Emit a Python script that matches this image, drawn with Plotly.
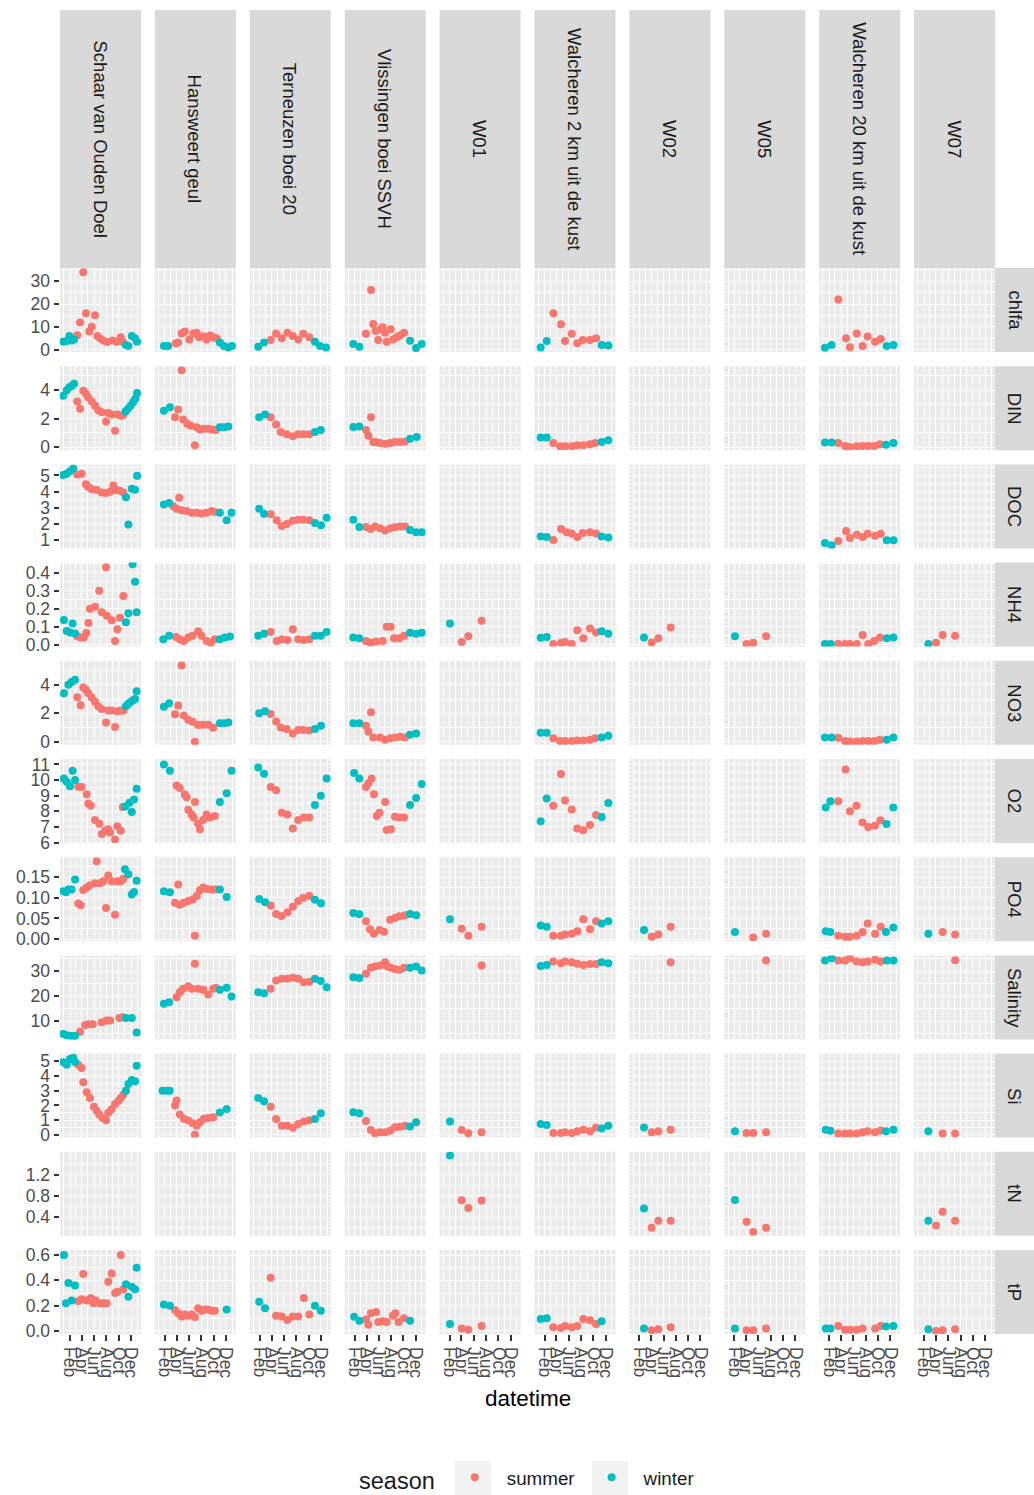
import numpy as np
import pandas as pd
import plotly.graph_objects as go

# ---------------- data ----------------
STATIONS = ["Schaar van Ouden Doel", "Hansweert geul", "Terneuzen boei 20", "Vlissingen boei SSVH",
            "W01", "Walcheren 2 km uit de kust", "W02", "W05", "Walcheren 20 km uit de kust", "W07"]
CODES = ["S", "H", "T", "V", "W01", "W2", "W02", "W05", "W20", "W07"]
VARIABLES = ["chlfa", "DIN", "DOC", "NH4", "NO3", "O2", "PO4", "Salinity", "Si", "tN", "tP"]
MONTH_TICKS = ["2009-02-01", "2009-04-01", "2009-06-01", "2009-08-01", "2009-10-01", "2009-12-01"]
MONTH_LABELS = ["Feb", "Apr", "Jun", "Aug", "Oct", "Dec"]
SEASONS = ["summer", "winter"]

# day-of-year (2009) of each sample and measured value, per station
chlfa_doy = {
    "S": [-1, 16, 29, 40, 52, 68, 82, 98, 111, 128, 140, 156, 168, 181, 197, 217, 244, 264, 284, 294, 310, 322, 339, 355, 365],
    "H": [27, 48, 87, 98, 115, 131, 153, 173, 190, 202, 222, 239, 256, 272, 289, 305, 325, 347, 365],
    "T": [24, 53, 86, 113, 141, 169, 196, 223, 248, 278, 306, 331, 361],
    "V": [25, 55, 88, 113, 124, 136, 149, 161, 171, 183, 191, 211, 223, 241, 256, 277, 307, 337, 365],
    "W2": [13, 43, 76, 114, 134, 167, 195, 222, 258, 288, 316, 349],
    "W20": [11, 44, 77, 116, 135, 169, 198, 223, 260, 288, 318, 351],
}
chlfa_val = {
    "S": [3.6, 3.9, 6.1, 4.1, 4.6, 6.4, 11.9, 33.8, 16.0, 8.0, 10.1, 15.1, 6.1, 5.1, 4.1, 3.5, 4.1, 3.6, 5.5, 3.6, 2.2, 1.7, 6.1, 5.1, 3.6],
    "H": [1.7, 1.7, 2.9, 3.2, 7.2, 8.0, 4.6, 7.2, 7.5, 5.5, 6.0, 4.6, 6.3, 5.5, 5.1, 3.2, 1.7, 1.1, 1.7],
    "T": [1.4, 3.2, 4.3, 7.2, 5.1, 7.5, 6.1, 4.6, 7.0, 5.5, 3.6, 1.7, 1.1],
    "V": [2.6, 1.4, 7.0, 26.1, 11.3, 8.3, 4.3, 9.0, 9.9, 7.5, 3.6, 9.0, 4.6, 5.5, 6.3, 7.5, 4.0, 0.8, 2.6],
    "W2": [1.1, 3.9, 16.0, 11.2, 3.9, 7.0, 2.9, 4.3, 4.3, 5.1, 2.2, 1.9],
    "W20": [1.0, 2.2, 22.0, 5.1, 1.2, 7.2, 1.7, 5.8, 3.6, 4.8, 1.7, 2.2],
}

DIN_doy = {
    "S": [-1, 16, 29, 40, 52, 68, 82, 98, 111, 122, 140, 156, 172, 189, 211, 222, 239, 256, 267, 284, 297, 308, 320, 333, 345, 356, 365],
    "H": [27, 57, 82, 98, 115, 123, 143, 160, 181, 190, 206, 226, 247, 269, 285, 305, 325, 347],
    "T": [29, 58, 86, 113, 136, 166, 196, 223, 248, 278, 306, 335],
    "V": [25, 55, 88, 100, 113, 124, 140, 158, 183, 208, 232, 257, 282, 307, 340],
    "W2": [13, 43, 76, 109, 134, 167, 195, 225, 258, 283, 316, 349],
    "W20": [11, 44, 77, 111, 135, 169, 198, 226, 256, 284, 314, 351],
}
DIN_val = {
    "S": [3.6, 4.0, 4.2, 4.3, 4.45, 3.2, 2.7, 3.95, 3.75, 3.5, 3.2, 2.9, 2.6, 2.45, 1.8, 2.4, 2.3, 1.15, 2.3, 2.2, 2.25, 2.5, 2.7, 2.9, 3.15, 3.4, 3.8],
    "H": [2.55, 2.8, 2.1, 2.65, 5.4, 1.95, 1.65, 1.5, 0.14, 1.4, 1.25, 1.3, 1.3, 1.25, 1.2, 1.4, 1.4, 1.45],
    "T": [2.1, 2.3, 2.1, 1.6, 1.07, 0.9, 0.77, 0.9, 0.9, 0.9, 1.07, 1.2],
    "V": [1.42, 1.45, 1.2, 0.8, 2.1, 0.37, 0.35, 0.3, 0.25, 0.3, 0.37, 0.37, 0.4, 0.6, 0.72],
    "W2": [0.68, 0.68, 0.3, 0.07, 0.07, 0.07, 0.14, 0.14, 0.2, 0.3, 0.37, 0.49],
    "W20": [0.33, 0.33, 0.3, 0.09, 0.02, 0.07, 0.09, 0.09, 0.09, 0.2, 0.18, 0.3],
}

DOC_doy = {
    "S": [-1, 16, 32, 48, 68, 90, 111, 122, 140, 165, 190, 211, 231, 247, 261, 280, 297, 310, 322, 339, 355, 365],
    "H": [27, 53, 73, 90, 103, 115, 140, 165, 190, 214, 239, 264, 280, 305, 339, 363],
    "T": [29, 53, 86, 116, 141, 166, 196, 223, 248, 278, 306, 336, 364],
    "V": [25, 55, 88, 112, 133, 158, 183, 208, 232, 257, 282, 307, 337, 365],
    "W2": [13, 43, 76, 114, 142, 167, 195, 222, 258, 288, 316, 349],
    "W20": [11, 44, 77, 116, 135, 169, 198, 223, 260, 288, 318, 351],
}
DOC_val = {
    "S": [5.02, 5.1, 5.26, 5.42, 5.06, 5.1, 4.45, 4.3, 4.15, 4.1, 3.95, 3.92, 4.0, 4.38, 4.1, 4.06, 3.95, 3.66, 1.98, 4.18, 4.12, 4.98],
    "H": [3.2, 3.3, 3.1, 2.95, 3.63, 2.85, 2.8, 2.7, 2.7, 2.65, 2.7, 2.8, 2.75, 2.7, 2.24, 2.7],
    "T": [2.95, 2.64, 2.6, 2.23, 1.88, 2.0, 2.2, 2.27, 2.27, 2.23, 2.06, 1.92, 2.39],
    "V": [2.27, 1.82, 1.82, 1.7, 1.85, 1.75, 1.6, 1.75, 1.8, 1.85, 1.85, 1.63, 1.5, 1.5],
    "W2": [1.24, 1.2, 1.02, 1.7, 1.5, 1.42, 1.2, 1.45, 1.5, 1.42, 1.24, 1.17],
    "W20": [0.84, 0.7, 0.96, 1.58, 1.14, 1.34, 1.2, 1.4, 1.28, 1.4, 1.0, 1.0],
}

NH4_doy = {
    "S": [2, 16, 32, 45, 57, 68, 85, 101, 113, 124, 131, 156, 177, 190, 211, 215, 239, 256, 267, 280, 297, 310, 322, 343, 355, 363],
    "H": [24, 53, 87, 106, 126, 148, 169, 197, 214, 239, 259, 280, 305, 330, 355],
    "T": [24, 53, 86, 116, 141, 169, 196, 223, 251, 278, 306, 335, 364],
    "V": [25, 55, 88, 111, 138, 171, 191, 211, 227, 254, 277, 307, 337, 365],
    "W01": [34, 92, 125, 191],
    "W2": [13, 43, 76, 114, 134, 167, 195, 225, 258, 288, 316, 349],
    "W02": [55, 93, 126, 187],
    "W05": [35, 93, 126, 190],
    "W20": [11, 39, 77, 111, 135, 169, 198, 226, 256, 284, 318, 351],
    "W07": [53, 91, 124, 186],
}
NH4_val = {
    "S": [0.137, 0.076, 0.068, 0.118, 0.062, 0.047, 0.04, 0.04, 0.065, 0.12, 0.2, 0.21, 0.3, 0.18, 0.43, 0.16, 0.135, 0.02, 0.085, 0.15, 0.27, 0.125, 0.175, 0.447, 0.35, 0.18],
    "H": [0.03, 0.05, 0.043, 0.03, 0.02, 0.04, 0.05, 0.075, 0.05, 0.02, 0.01, 0.03, 0.03, 0.04, 0.045],
    "T": [0.05, 0.06, 0.07, 0.02, 0.03, 0.025, 0.085, 0.03, 0.025, 0.03, 0.05, 0.05, 0.07],
    "V": [0.04, 0.035, 0.02, 0.01, 0.018, 0.02, 0.1, 0.1, 0.035, 0.035, 0.05, 0.066, 0.06, 0.066],
    "W01": [0.118, 0.015, 0.047, 0.133],
    "W2": [0.038, 0.043, 0.003, 0.01, 0.015, 0.003, 0.08, 0.035, 0.089, 0.068, 0.075, 0.06],
    "W02": [0.04, 0.012, 0.035, 0.095],
    "W05": [0.047, 0.003, 0.01, 0.047],
    "W20": [0.003, 0.003, 0.003, 0.003, 0.003, 0.003, 0.053, 0.003, 0.02, 0.04, 0.035, 0.04],
    "W07": [0.003, 0.01, 0.053, 0.05],
}

NO3_doy = {
    "S": [2, 24, 40, 57, 68, 85, 98, 111, 122, 140, 156, 172, 189, 211, 222, 239, 256, 267, 284, 297, 310, 320, 330, 343, 355, 363],
    "H": [27, 53, 82, 98, 115, 126, 148, 170, 181, 197, 222, 247, 272, 305, 325, 347],
    "T": [29, 58, 86, 113, 136, 166, 196, 223, 248, 278, 306, 336],
    "V": [25, 55, 88, 100, 113, 124, 158, 183, 208, 232, 257, 282, 307, 337],
    "W2": [13, 43, 76, 109, 134, 167, 195, 225, 258, 283, 316, 349],
    "W20": [11, 44, 77, 111, 135, 169, 198, 226, 256, 284, 318, 351],
}
NO3_val = {
    "S": [3.4, 4.0, 4.2, 4.35, 3.13, 2.57, 3.8, 3.65, 3.42, 3.1, 2.8, 2.5, 2.3, 1.35, 2.2, 2.2, 1.04, 2.15, 2.2, 2.2, 2.5, 2.65, 2.75, 2.9, 3.0, 3.55],
    "H": [2.45, 2.7, 1.93, 2.55, 5.35, 1.85, 1.55, 1.4, 0.0, 1.18, 1.2, 1.2, 0.98, 1.3, 1.3, 1.35],
    "T": [2.0, 2.14, 1.95, 1.43, 1.0, 0.9, 0.58, 0.83, 0.83, 0.8, 0.9, 1.13],
    "V": [1.3, 1.3, 1.13, 0.73, 2.07, 0.3, 0.3, 0.15, 0.25, 0.3, 0.35, 0.3, 0.5, 0.58],
    "W2": [0.63, 0.63, 0.25, 0.05, 0.05, 0.05, 0.1, 0.1, 0.15, 0.25, 0.3, 0.42],
    "W20": [0.3, 0.3, 0.28, 0.05, 0.02, 0.03, 0.05, 0.05, 0.05, 0.15, 0.15, 0.3],
}

O2_doy = {
    "S": [2, 16, 32, 45, 57, 73, 90, 115, 123, 135, 156, 178, 190, 206, 222, 231, 256, 267, 284, 294, 307, 327, 339, 350, 363],
    "H": [27, 57, 90, 106, 131, 140, 148, 165, 175, 181, 197, 206, 222, 239, 256, 280, 305, 339, 363],
    "T": [24, 53, 86, 113, 141, 169, 196, 223, 251, 278, 306, 335, 364],
    "V": [29, 55, 88, 100, 116, 128, 141, 155, 183, 191, 212, 232, 254, 277, 307, 337, 365],
    "W2": [13, 43, 76, 114, 134, 167, 195, 224, 258, 288, 316, 349],
    "W20": [15, 38, 77, 113, 135, 168, 197, 226, 259, 287, 317, 350],
}
O2_val = {
    "S": [10.1, 9.9, 9.6, 10.6, 10.0, 9.57, 9.55, 9.1, 8.5, 8.35, 7.45, 7.2, 6.55, 6.75, 6.85, 6.65, 6.2, 7.05, 6.75, 8.28, 8.3, 8.55, 7.95, 8.75, 9.45],
    "H": [11.0, 10.6, 9.65, 9.5, 9.08, 8.9, 8.1, 7.8, 7.6, 8.6, 7.2, 6.85, 7.45, 7.8, 7.6, 7.7, 8.6, 9.15, 10.6],
    "T": [10.8, 10.4, 9.55, 9.35, 7.9, 7.8, 6.9, 7.45, 7.6, 7.6, 8.4, 9.0, 10.1],
    "V": [10.45, 10.1, 9.55, 9.8, 10.1, 9.1, 7.7, 7.9, 8.6, 6.8, 6.85, 7.65, 7.6, 7.6, 8.4, 8.85, 9.75],
    "W2": [7.37, 8.82, 8.36, 10.39, 8.7, 8.12, 6.9, 6.79, 7.13, 7.77, 7.63, 8.53],
    "W20": [8.24, 8.65, 8.65, 10.68, 8.0, 8.36, 7.28, 6.99, 7.08, 7.43, 7.19, 8.24],
}

PO4_doy = {
    "S": [-1, 12, 24, 40, 57, 73, 85, 98, 115, 131, 156, 165, 181, 197, 211, 222, 239, 256, 267, 284, 297, 305, 322, 339, 350, 363],
    "H": [27, 57, 82, 98, 106, 126, 148, 170, 181, 190, 206, 222, 242, 264, 280, 305, 339],
    "T": [29, 58, 86, 113, 141, 169, 196, 223, 248, 278, 306, 336],
    "V": [25, 55, 88, 108, 128, 155, 178, 208, 232, 254, 282, 307, 337],
    "W01": [34, 92, 125, 191],
    "W2": [13, 43, 76, 114, 134, 167, 195, 225, 258, 288, 316, 349],
    "W02": [55, 93, 126, 187],
    "W05": [35, 126, 190],
    "W20": [15, 38, 77, 111, 135, 169, 198, 223, 260, 288, 314, 351],
    "W07": [53, 124, 186],
}
PO4_val = {
    "S": [0.116, 0.113, 0.12, 0.12, 0.144, 0.086, 0.082, 0.119, 0.125, 0.13, 0.135, 0.188, 0.135, 0.14, 0.075, 0.154, 0.14, 0.059, 0.14, 0.14, 0.146, 0.169, 0.157, 0.108, 0.114, 0.141],
    "H": [0.116, 0.113, 0.088, 0.132, 0.083, 0.088, 0.092, 0.096, 0.008, 0.104, 0.118, 0.125, 0.121, 0.12, 0.12, 0.12, 0.102],
    "T": [0.097, 0.089, 0.081, 0.061, 0.056, 0.065, 0.078, 0.092, 0.1, 0.104, 0.095, 0.087],
    "V": [0.063, 0.06, 0.043, 0.024, 0.013, 0.022, 0.018, 0.047, 0.051, 0.055, 0.058, 0.061, 0.058],
    "W01": [0.048, 0.025, 0.008, 0.03],
    "W2": [0.033, 0.03, 0.008, 0.008, 0.011, 0.013, 0.019, 0.048, 0.024, 0.043, 0.038, 0.043],
    "W02": [0.022, 0.006, 0.011, 0.03],
    "W05": [0.017, 0.004, 0.013],
    "W20": [0.019, 0.017, 0.008, 0.006, 0.006, 0.008, 0.017, 0.038, 0.013, 0.03, 0.017, 0.028],
    "W07": [0.013, 0.017, 0.011],
}

Salinity_doy = {
    "S": [-1, 16, 32, 48, 57, 82, 107, 123, 145, 190, 214, 231, 277, 294, 310, 339, 363],
    "H": [27, 53, 90, 106, 123, 148, 165, 181, 197, 222, 247, 272, 285, 305, 339, 363],
    "T": [24, 53, 86, 113, 141, 169, 196, 223, 251, 278, 306, 335, 364],
    "V": [25, 55, 88, 112, 133, 158, 183, 195, 211, 232, 254, 277, 307, 337, 365],
    "W01": [191],
    "W2": [13, 43, 76, 114, 134, 167, 195, 225, 258, 288, 316, 349],
    "W02": [187],
    "W05": [190],
    "W20": [11, 44, 77, 111, 135, 169, 198, 223, 260, 288, 318, 351],
    "W07": [186],
}
Salinity_val = {
    "S": [5.0, 4.5, 4.3, 3.9, 4.3, 5.9, 8.5, 8.8, 8.8, 9.6, 10.3, 10.3, 11.3, 11.6, 11.3, 11.3, 5.6],
    "H": [17.0, 17.6, 19.6, 21.6, 23.0, 24.0, 23.0, 33.0, 23.0, 22.6, 20.7, 23.0, 23.4, 22.6, 23.4, 19.9],
    "T": [21.6, 21.2, 23.0, 26.3, 27.0, 27.0, 27.4, 27.0, 25.6, 25.8, 27.0, 26.1, 23.6],
    "V": [27.6, 27.3, 29.0, 31.4, 31.9, 32.3, 33.6, 31.9, 31.4, 30.9, 30.6, 31.4, 31.4, 31.9, 30.3],
    "W01": [32.3],
    "W2": [32.1, 32.5, 33.9, 33.2, 33.9, 33.6, 33.0, 32.5, 32.9, 32.9, 33.6, 33.2],
    "W02": [33.6],
    "W05": [34.3],
    "W20": [34.3, 35.2, 34.3, 34.3, 35.2, 33.9, 33.6, 33.9, 34.6, 33.9, 34.3, 34.3],
    "W07": [34.4],
}

Si_doy = {
    "S": [-1, 16, 32, 48, 57, 73, 90, 98, 115, 131, 151, 165, 177, 194, 211, 222, 239, 256, 272, 284, 297, 310, 322, 339, 355, 363],
    "H": [20, 40, 56, 82, 90, 106, 126, 148, 170, 181, 190, 206, 226, 247, 272, 305, 339],
    "T": [24, 53, 86, 113, 141, 169, 196, 223, 251, 278, 306, 335],
    "V": [25, 55, 88, 112, 133, 158, 183, 208, 232, 254, 282, 307, 337],
    "W01": [34, 92, 125, 191],
    "W2": [13, 43, 76, 114, 134, 167, 195, 225, 258, 288, 316, 349],
    "W02": [55, 93, 126, 187],
    "W05": [35, 93, 126, 190],
    "W20": [15, 38, 77, 111, 135, 169, 198, 223, 260, 288, 314, 351],
    "W07": [53, 124, 186],
}
Si_val = {
    "S": [4.93, 4.77, 5.16, 5.23, 4.95, 4.77, 4.55, 3.57, 2.9, 2.5, 1.92, 1.65, 1.38, 1.15, 1.0, 1.5, 1.75, 2.1, 2.3, 2.5, 2.75, 3.0, 3.45, 3.73, 3.65, 4.7],
    "H": [3.0, 3.0, 3.0, 2.0, 2.33, 1.38, 1.1, 0.98, 0.79, 0.02, 0.63, 0.86, 1.1, 1.15, 1.2, 1.53, 1.76],
    "T": [2.5, 2.28, 1.92, 1.09, 0.63, 0.63, 0.48, 0.75, 0.92, 1.0, 1.09, 1.47],
    "V": [1.54, 1.47, 0.95, 0.34, 0.11, 0.18, 0.18, 0.29, 0.52, 0.55, 0.63, 0.57, 0.86],
    "W01": [0.92, 0.34, 0.11, 0.18],
    "W2": [0.75, 0.68, 0.13, 0.13, 0.19, 0.13, 0.25, 0.35, 0.25, 0.5, 0.44, 0.63],
    "W02": [0.5, 0.19, 0.25, 0.35],
    "W05": [0.25, 0.13, 0.13, 0.19],
    "W20": [0.35, 0.28, 0.1, 0.1, 0.1, 0.1, 0.19, 0.25, 0.19, 0.3, 0.25, 0.35],
    "W07": [0.25, 0.1, 0.1],
}

tN_doy = {
    "W01": [34, 92, 125, 191],
    "W02": [55, 93, 126, 187],
    "W05": [35, 93, 126, 190],
    "W07": [53, 91, 124, 186],
}
tN_val = {
    "W01": [1.56, 0.715, 0.57, 0.71],
    "W02": [0.56, 0.2, 0.33, 0.33],
    "W05": [0.72, 0.31, 0.12, 0.2],
    "W07": [0.33, 0.24, 0.5, 0.33],
}

tP_doy = {
    "S": [2, 12, 24, 40, 57, 73, 90, 98, 115, 135, 148, 160, 181, 197, 214, 222, 239, 256, 267, 284, 297, 310, 322, 339, 355, 363],
    "H": [27, 57, 82, 98, 115, 131, 148, 165, 181, 197, 214, 231, 247, 264, 280, 339],
    "T": [29, 58, 86, 113, 141, 169, 196, 223, 251, 278, 306, 335],
    "V": [29, 55, 88, 100, 112, 138, 149, 171, 191, 221, 234, 250, 277, 307],
    "W01": [34, 92, 125, 191],
    "W2": [13, 43, 76, 114, 134, 167, 195, 225, 258, 288, 316],
    "W02": [55, 93, 126, 187],
    "W05": [35, 93, 126, 190],
    "W20": [15, 38, 77, 111, 135, 169, 198, 260, 288, 314, 351],
    "W07": [53, 91, 124, 186],
}
tP_val = {
    "S": [0.6, 0.22, 0.38, 0.24, 0.36, 0.235, 0.25, 0.45, 0.24, 0.26, 0.22, 0.24, 0.22, 0.22, 0.22, 0.39, 0.455, 0.3, 0.31, 0.6, 0.33, 0.37, 0.27, 0.35, 0.33, 0.5],
    "H": [0.21, 0.2, 0.166, 0.14, 0.115, 0.13, 0.12, 0.13, 0.11, 0.18, 0.16, 0.17, 0.17, 0.16, 0.16, 0.17],
    "T": [0.23, 0.18, 0.42, 0.12, 0.115, 0.087, 0.115, 0.115, 0.26, 0.13, 0.2, 0.16],
    "V": [0.113, 0.08, 0.09, 0.05, 0.14, 0.15, 0.07, 0.076, 0.07, 0.12, 0.14, 0.07, 0.1, 0.08],
    "W01": [0.055, 0.02, 0.01, 0.04],
    "W2": [0.094, 0.1, 0.03, 0.023, 0.04, 0.03, 0.04, 0.094, 0.084, 0.055, 0.077],
    "W02": [0.02, 0.006, 0.013, 0.03],
    "W05": [0.02, 0.006, 0.006, 0.02],
    "W20": [0.02, 0.02, 0.04, 0.01, 0.01, 0.01, 0.02, 0.02, 0.04, 0.035, 0.04],
    "W07": [0.013, 0.0, 0.006, 0.013],
}

DOY = {"chlfa": chlfa_doy, "DIN": DIN_doy, "DOC": DOC_doy, "NH4": NH4_doy, "NO3": NO3_doy, "O2": O2_doy,
       "PO4": PO4_doy, "Salinity": Salinity_doy, "Si": Si_doy, "tN": tN_doy, "tP": tP_doy}
VAL = {"chlfa": chlfa_val, "DIN": DIN_val, "DOC": DOC_val, "NH4": NH4_val, "NO3": NO3_val, "O2": O2_val,
       "PO4": PO4_val, "Salinity": Salinity_val, "Si": Si_val, "tN": tN_val, "tP": tP_val}

# ---------------- styling / layout ----------------
W, H = 1034, 1495
COL_L, COL_P, COL_W = 60.0, 94.9, 81.0
ROW_T, ROW_P, ROW_H = 268.0, 98.2, 84.0
STRIP_TOP = 10.0
RSTRIP_L = 995.0
COLORS = {"summer": "#F8766D", "winter": "#00BFC4"}
FONT = "Liberation Sans, Arial, sans-serif"
BASE = pd.Timestamp("2009-01-01")
X_RANGE = ["2008-12-13 07:12", "2010-01-19 16:48"]
X_MINOR = ["2009-01-01", "2009-03-01", "2009-05-01", "2009-07-01", "2009-09-01", "2009-11-01", "2010-01-01"]

Y_AXES = {
    "chlfa": dict(range=[-0.9, 35.7], tickvals=[0, 10, 20, 30], ticktext=["0", "10", "20", "30"], minor=[5, 15, 25, 35]),
    "DIN": dict(range=[-0.21, 5.68], tickvals=[0, 2, 4], ticktext=["0", "2", "4"], minor=[1, 3, 5]),
    "DOC": dict(range=[0.5, 5.68], tickvals=[1, 2, 3, 4, 5], ticktext=["1", "2", "3", "4", "5"], minor=[1.5, 2.5, 3.5, 4.5, 5.5]),
    "NH4": dict(range=[-0.011, 0.456], tickvals=[0, 0.1, 0.2, 0.3, 0.4], ticktext=["0.0", "0.1", "0.2", "0.3", "0.4"], minor=[0.05, 0.15, 0.25, 0.35, 0.45]),
    "NO3": dict(range=[-0.21, 5.68], tickvals=[0, 2, 4], ticktext=["0", "2", "4"], minor=[1, 3, 5]),
    "O2": dict(range=[5.97, 11.35], tickvals=[6, 7, 8, 9, 10, 11], ticktext=["6", "7", "8", "9", "10", "11"], minor=[6.5, 7.5, 8.5, 9.5, 10.5]),
    "PO4": dict(range=[-0.005, 0.198], tickvals=[0, 0.05, 0.1, 0.15], ticktext=["0.00", "0.05", "0.10", "0.15"], minor=[0.025, 0.075, 0.125, 0.175]),
    "Salinity": dict(range=[2.8, 36.3], tickvals=[10, 20, 30], ticktext=["10", "20", "30"], minor=[5, 15, 25, 35]),
    "Si": dict(range=[-0.18, 5.52], tickvals=[0, 1, 2, 3, 4, 5], ticktext=["0", "1", "2", "3", "4", "5"], minor=[0.5, 1.5, 2.5, 3.5, 4.5]),
    "tN": dict(range=[0.047, 1.63], tickvals=[0.4, 0.8, 1.2], ticktext=["0.4", "0.8", "1.2"], minor=[0.2, 0.6, 1.0, 1.4]),
    "tP": dict(range=[-0.024, 0.64], tickvals=[0, 0.2, 0.4, 0.6], ticktext=["0.0", "0.2", "0.4", "0.6"], minor=[0.1, 0.3, 0.5]),
}

fig = go.Figure()
layout = {}
shapes = []
annotations = []
seen = set()

n_rows, n_cols = len(VARIABLES), len(CODES)
for r, var in enumerate(VARIABLES):
    y_top = ROW_T + r * ROW_P
    y_bot = y_top + ROW_H
    for c, code in enumerate(CODES):
        idx = r * n_cols + c + 1
        sfx = "" if idx == 1 else str(idx)
        x_left = COL_L + c * COL_P
        x_right = x_left + COL_W
        last_row = (r == n_rows - 1)
        first_col = (c == 0)
        layout["xaxis" + sfx] = dict(
            domain=[x_left / W, x_right / W], anchor="y" + sfx, type="date", range=X_RANGE,
            tickmode="array", tickvals=MONTH_TICKS, ticktext=MONTH_LABELS,
            showticklabels=last_row, ticks="outside" if last_row else "", ticklen=5.5, tickwidth=1.6,
            tickcolor="#333333", tickangle=90, ticklabelstandoff=3,
            tickfont=dict(family=FONT, size=17.5, color="#4D4D4D"),
            showgrid=True, gridcolor="white", gridwidth=1.4,
            minor=dict(tickvals=X_MINOR, showgrid=True, gridcolor="white", gridwidth=0.7),
            zeroline=False, showline=False, fixedrange=True,
        )
        ya = Y_AXES[var]
        layout["yaxis" + sfx] = dict(
            domain=[1 - y_bot / H, 1 - y_top / H], anchor="x" + sfx, range=ya["range"],
            tickmode="array", tickvals=ya["tickvals"], ticktext=ya["ticktext"],
            showticklabels=first_col, ticks="outside" if first_col else "", ticklen=5.5, tickwidth=1.6,
            tickcolor="#333333",
            tickfont=dict(family=FONT, size=17.5, color="#4D4D4D"),
            showgrid=True, gridcolor="white", gridwidth=1.4,
            minor=dict(tickvals=ya["minor"], showgrid=True, gridcolor="white", gridwidth=0.7),
            zeroline=False, showline=False, fixedrange=True,
        )
        # placeholder so that every facet panel is drawn, even without data
        fig.add_trace(go.Scatter(x=[], y=[], mode="markers", showlegend=False, hoverinfo="skip",
                                 xaxis="x" + sfx, yaxis="y" + sfx))
        if code in DOY[var]:
            d = np.array(DOY[var][code], dtype=float)
            v = np.array(VAL[var][code], dtype=float)
            dates = BASE + pd.to_timedelta(d - 1, unit="D")
            months = dates.month
            is_summer = (months >= 3) & (months <= 10)
            for season, mask in (("summer", is_summer), ("winter", ~is_summer)):
                if mask.sum() == 0:
                    continue
                fig.add_trace(go.Scatter(
                    x=dates[mask], y=v[mask], mode="markers", name=season,
                    legendgroup=season, showlegend=season not in seen,
                    marker=dict(color=COLORS[season], size=8, line=dict(width=0)),
                    xaxis="x" + sfx, yaxis="y" + sfx, hoverinfo="skip",
                ))
                seen.add(season)
        # top strips
        if r == 0:
            shapes.append(dict(type="rect", xref="paper", yref="paper", x0=x_left / W, x1=x_right / W,
                               y0=1 - ROW_T / H, y1=1 - STRIP_TOP / H, fillcolor="#D9D9D9", line=dict(width=0), layer="below"))
            annotations.append(dict(text=STATIONS[c], xref="paper", yref="paper",
                                    x=(x_left + x_right) / 2 / W, y=1 - (ROW_T + STRIP_TOP) / 2 / H,
                                    textangle=90, showarrow=False, xanchor="center", yanchor="middle",
                                    font=dict(family=FONT, size=18.5, color="#1A1A1A")))
    # right strips
    shapes.append(dict(type="rect", xref="paper", yref="paper", x0=RSTRIP_L / W, x1=1.0,
                       y0=1 - y_bot / H, y1=1 - y_top / H, fillcolor="#D9D9D9", line=dict(width=0), layer="below"))
    annotations.append(dict(text=var, xref="paper", yref="paper",
                            x=(RSTRIP_L + W) / 2 / W, y=1 - (y_top + y_bot) / 2 / H,
                            textangle=90, showarrow=False, xanchor="center", yanchor="middle",
                            font=dict(family=FONT, size=18.5, color="#1A1A1A")))

# x axis title
annotations.append(dict(text="datetime", xref="paper", yref="paper", x=527.5 / W, y=1 - 1398 / H,
                        showarrow=False, xanchor="center", yanchor="middle",
                        font=dict(family=FONT, size=22.5, color="black")))

# legend key backgrounds
for cx in (473, 610):
    shapes.append(dict(type="rect", xref="paper", yref="paper", x0=(cx - 18) / W, x1=(cx + 18) / W,
                       y0=1 - 1497 / H, y1=1 - 1461 / H, fillcolor="#F2F2F2", line=dict(width=0), layer="below"))

layout.update(dict(
    width=W, height=H, margin=dict(l=0, r=0, t=0, b=0, autoexpand=False),
    paper_bgcolor="white", plot_bgcolor="#EBEBEB",
    font=dict(family=FONT, color="#1A1A1A"),
    shapes=shapes, annotations=annotations,
    showlegend=True,
    legend=dict(orientation="h", xref="container", yref="container",
                x=357 / W, y=1 - 1479 / H, xanchor="left", yanchor="middle",
                title=dict(text="season", side="left", font=dict(family=FONT, size=23.5, color="#1A1A1A")),
                font=dict(family=FONT, size=18.8, color="#1A1A1A"), bgcolor="rgba(0,0,0,0)",
                itemwidth=54, tracegroupgap=0),
))
fig.update_layout(**layout)
fig.write_html("out.html")
